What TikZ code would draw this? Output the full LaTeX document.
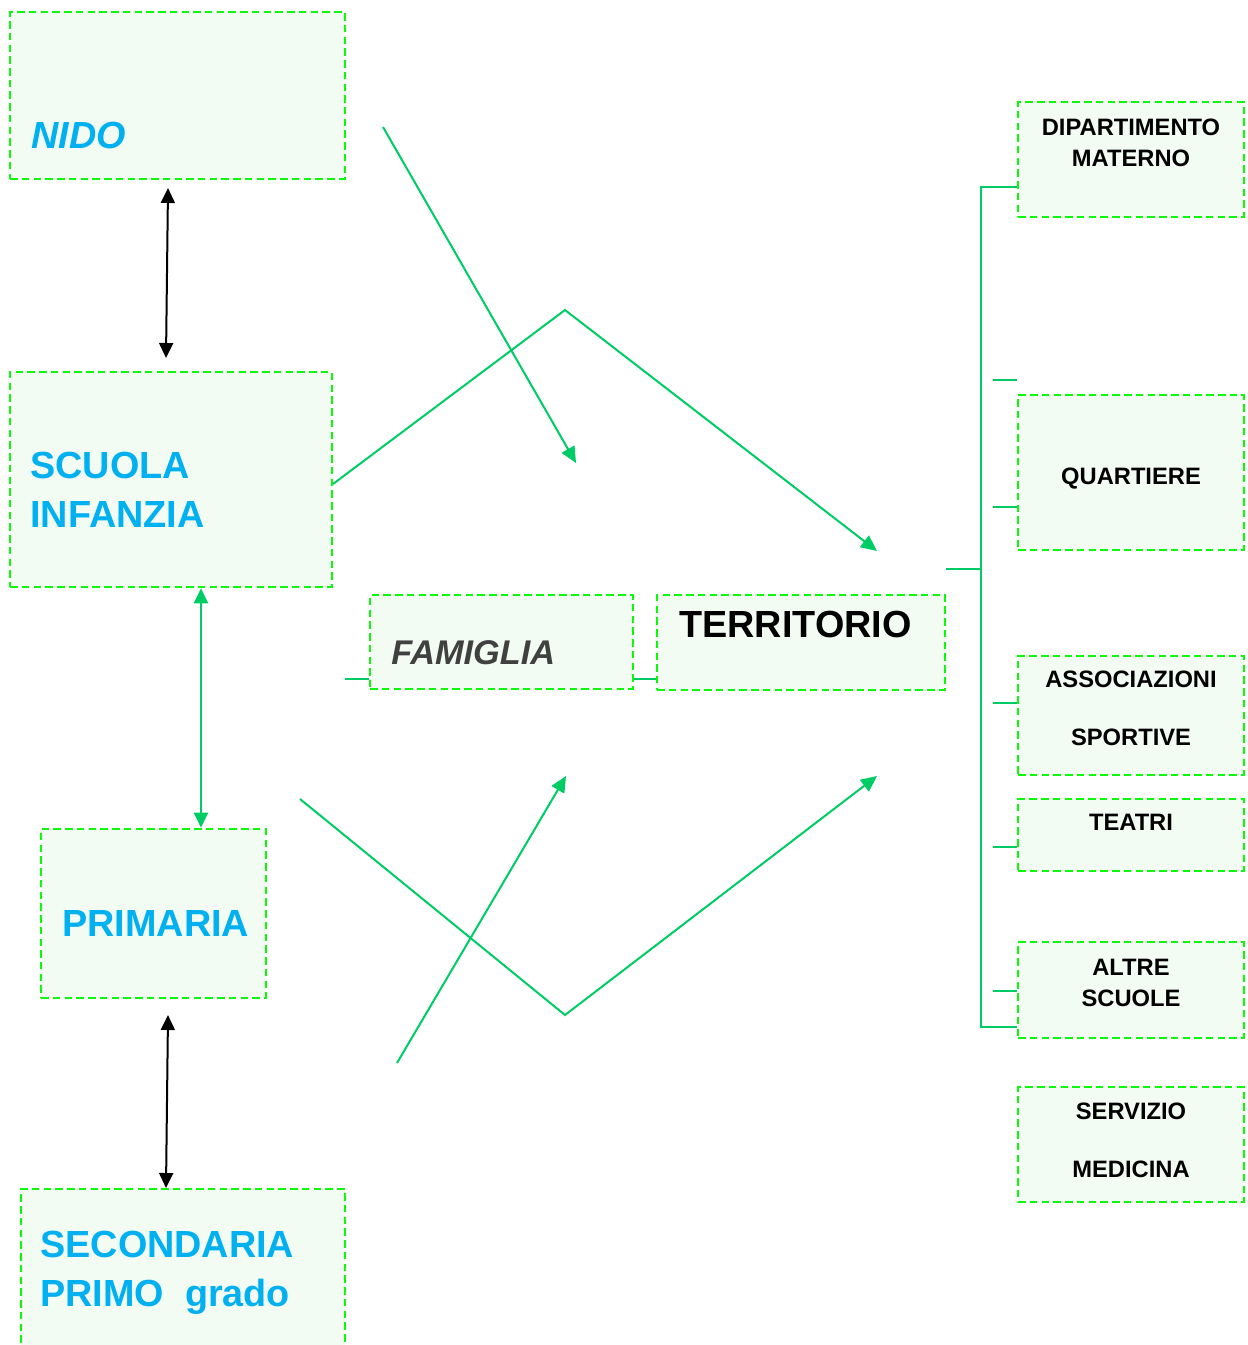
\documentclass[tikz,border=0pt]{standalone}
\usepackage{fontspec}
\setmainfont{Liberation Sans}
\usetikzlibrary{arrows.meta}
\definecolor{boxline}{RGB}{10,250,10}
\definecolor{boxfill}{RGB}{242,252,242}
\definecolor{conn}{RGB}{0,204,102}
\definecolor{cyanc}{RGB}{0,176,240}
\definecolor{famgray}{RGB}{64,64,64}
\begin{document}
\begin{tikzpicture}[x=0.02cm,y=-0.02cm,
  box/.style={draw=boxline, fill=boxfill, line width=0.052cm, dash pattern=on 0.15cm off 0.085cm, inner sep=0pt, minimum width=#1},
  box/.default=4.52cm,
  bigtxt/.style={font=\fontsize{21.5}{27.8}\selectfont\bfseries, inner sep=0pt, anchor=north west, align=left, text=cyanc},
  smalltxt/.style={font=\fontsize{13.5}{17.6}\selectfont\bfseries, inner sep=0pt, anchor=north, align=center},
  gline/.style={draw=conn, line width=0.04cm},
  garrow/.style={gline, -{Triangle[length=0.32cm,width=0.29cm]}},
  barrow/.style={draw=black, line width=0.04cm, {Triangle[length=0.3cm,width=0.28cm]}-{Triangle[length=0.3cm,width=0.28cm]}}
]
\clip (0,0) rectangle (1247,1345);
\fill[white] (0,0) rectangle (1247,1345);

% ---- boxes ----
\node[box=6.70cm, minimum height=3.34cm] (nido) at (177.5,95.5) {};
\node[box=6.44cm, minimum height=4.30cm] (scuola) at (171,479.5) {};
\node[box=5.26cm, minimum height=1.88cm] (famiglia) at (501.5,642) {};
\node[box=5.76cm, minimum height=1.90cm] (territorio) at (801,642.5) {};
\node[box=4.50cm, minimum height=3.38cm] (primaria) at (153.5,913.5) {};
\node[box=6.48cm, minimum height=3.62cm] (secondaria) at (183,1279.5) {};
\node[box, minimum height=2.30cm] (dip) at (1131,159.5) {};
\node[box, minimum height=3.10cm] (quart) at (1131,472.5) {};
\node[box, minimum height=2.38cm] (assoc) at (1131,715.5) {};
\node[box, minimum height=1.44cm] (teatri) at (1131,835) {};
\node[box, minimum height=1.92cm] (altre) at (1131,990) {};
\node[box, minimum height=2.30cm] (servizio) at (1131,1144.5) {};

% ---- texts ----
\node[bigtxt, font=\fontsize{21.5}{27.8}\selectfont\bfseries\itshape] (tnido) at (31,122) {NIDO};
\node[bigtxt] (tscuola) at (30,452) {SCUOLA\\INFANZIA};
\node[bigtxt, text=famgray, font=\fontsize{19.5}{24}\selectfont\bfseries\itshape] (tfam) at (391,640) {FAMIGLIA};
\node[bigtxt, text=black] (tterr) at (679,611) {TERRITORIO};
\node[bigtxt] (tprim) at (62,910) {PRIMARIA};
\node[bigtxt] (tsec) at (40,1231) {SECONDARIA\\PRIMO\ \ grado};
\node[smalltxt] (tdip) at (1131,119) {DIPARTIMENTO\\MATERNO};
\node[smalltxt] (tquart) at (1131,468) {QUARTIERE};
\node[smalltxt] (tassoc) at (1131,671) {ASSOCIAZIONI\\[15.3pt]SPORTIVE};
\node[smalltxt] (tteatri) at (1131,814) {TEATRI};
\node[smalltxt] (taltre) at (1131,959) {ALTRE\\SCUOLE};
\node[smalltxt] (tserv) at (1131,1103) {SERVIZIO\\[15.3pt]MEDICINA};

% ---- vertical arrows on the left ----
\coordinate (n1) at (168,188);
\coordinate (n2) at (166,358);
\draw[barrow] (n1) -- (n2);
\coordinate (p1) at (168,1015);
\coordinate (p2) at (166,1188);
\draw[barrow] (p1) -- (p2);
\coordinate (sp) at (201,0);
\draw[gline, {Triangle[length=0.3cm,width=0.28cm]}-{Triangle[length=0.3cm,width=0.28cm]}] (scuola.south -| sp) -- (primaria.north -| sp);

% ---- diagonal green connectors ----
\coordinate (a1) at (383,127);
\coordinate (a2) at (576,463);
\draw[garrow] (a1) -- (a2);
\coordinate (b1) at (333,484);
\coordinate (b2) at (565,310);
\coordinate (b3) at (877,551);
\draw[garrow] (b1) -- (b2) -- (b3);
\coordinate (c1) at (300,799);
\coordinate (c2) at (565,1015);
\coordinate (c3) at (877,776);
\draw[garrow] (c1) -- (c2) -- (c3);
\coordinate (d1) at (397,1063);
\coordinate (d2) at (566,776);
\draw[garrow] (d1) -- (d2);

% ---- famiglia / territorio links ----
\coordinate (fl) at (345,679);
\draw[gline] (fl) -- (fl -| famiglia.west);
\draw[gline] (famiglia.east |- fl) -- (territorio.west |- fl);

% ---- right bracket ----
\coordinate (br) at (981,569);
\coordinate (bt) at (981,187);
\coordinate (bb) at (981,1027);
\draw[gline] (territorio.east |- br) -- (br);
\draw[gline] (dip.west |- bt) -- (bt) -- (bb) -- (altre.west |- bb);
\coordinate (t1) at (993,380);
\coordinate (t2) at (993,507);
\coordinate (t3) at (993,703);
\coordinate (t4) at (993,847);
\coordinate (t5) at (993,991);
\draw[gline] (t1) -- (quart.west |- t1);
\draw[gline] (t2) -- (quart.west |- t2);
\draw[gline] (t3) -- (assoc.west |- t3);
\draw[gline] (t4) -- (teatri.west |- t4);
\draw[gline] (t5) -- (altre.west |- t5);
\end{tikzpicture}
\end{document}
